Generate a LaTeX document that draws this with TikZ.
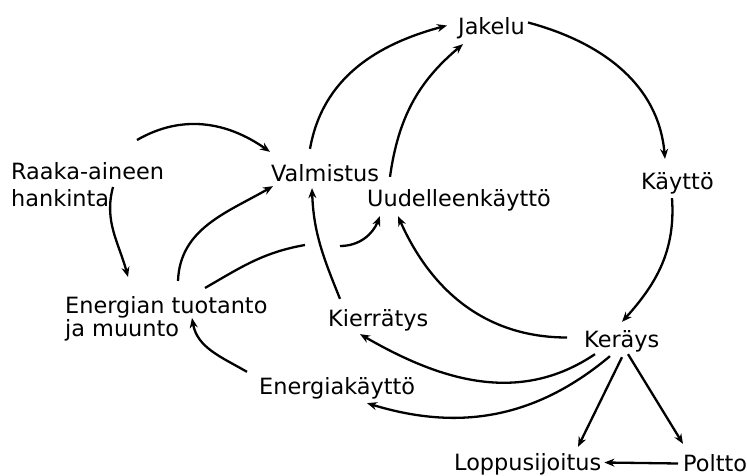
\documentclass[tikz,border=0pt]{standalone}
\usepackage{fontspec}
\setmainfont{DejaVu Sans}
\usetikzlibrary{arrows.meta}

\begin{document}
\begin{tikzpicture}[x=1pt,y=1pt,->,>={Stealth[length=10pt,width=8pt]},line width=2.3pt,
  every node/.style={font=\fontsize{22.4}{27}\selectfont,inner sep=0pt},
  lbl/.style={anchor=base west,text height=16pt,text depth=5pt},
  multi/.style={anchor=north west,align=left}]
  \useasboundingbox (0,0) rectangle (747,476);
  % stages
  \node[lbl] (jak) at (457,441) {Jakelu};
  \node[lbl] (kay) at (640,286) {Käyttö};
  \node[lbl] (ker) at (583,128) {Keräys};
  \node[lbl] (pol) at (682,4) {Poltto};
  \node[lbl] (lop) at (453,5) {Loppusijoitus};
  \node[lbl] (enk) at (258,81) {Energiakäyttö};
  \node[lbl] (kie) at (327,149) {Kierrätys};
  \node[lbl] (uud) at (366,269) {Uudelleenkäyttö};
  \node[lbl] (val) at (270,294) {Valmistus};
  \node[multi] (raa) at (10,315) {Raaka-aineen\\hankinta};
  \node[multi] (etu) at (64,181) {Energian tuotanto\\[-4pt]ja muunto};
  \coordinate (gapA) at (305,231);
  \coordinate (gapB) at (340,230);
  % main cycle
  \draw ([xshift=40pt,yshift=16pt]val.north west) to[out=80,in=195] ([xshift=-10pt,yshift=4pt]jak.west);
  \draw ([xshift=24pt,yshift=13pt]uud.north west) to[out=82,in=220] ([xshift=6pt,yshift=-3pt]jak.south west);
  \draw ([xshift=2pt,yshift=7pt]jak.east) to[out=-15,in=95] ([xshift=25pt,yshift=14pt]kay.north west);
  \draw ([xshift=32pt,yshift=-2pt]kay.south west) to[out=-86,in=48] ([xshift=39pt,yshift=9pt]ker.north west);
  \draw ([xshift=-16pt,yshift=5pt]ker.west) to[out=180,in=-66] ([xshift=32pt,yshift=-3pt]uud.south west);
  % from collection
  \draw ([xshift=12pt]ker.south west) to[out=214,in=-30] ([xshift=33pt,yshift=-1pt]kie.south west);
  \draw ([xshift=27pt,yshift=-2pt]ker.south west) to[out=220,in=-17] ([xshift=109pt,yshift=-2pt]enk.south west);
  \draw ([xshift=39pt,yshift=-3pt]ker.south west) -- ([xshift=125pt,yshift=7pt]lop.north west);
  \draw ([xshift=45pt]ker.south west) -- ([xshift=1pt,yshift=11pt]pol.north west);
  \draw ([xshift=-4pt,yshift=3pt]pol.west) -- ([xshift=2pt,yshift=3pt]lop.east);
  % back to production
  \draw ([xshift=-11pt,yshift=6pt]enk.north west) to[out=150,in=-80] ([xshift=128pt,yshift=-23pt]etu.north west);
  \draw ([xshift=13pt,yshift=11pt]kie.north west) to[out=112,in=-88] ([xshift=42pt]val.south west);
  \draw ([xshift=114pt,yshift=14pt]etu.north west) to[out=88,in=210] ([xshift=3pt,yshift=2pt]val.south west);
  \draw ([xshift=127pt,yshift=21pt]raa.north west) to[out=30,in=145] ([yshift=13pt]val.north west);
  \draw ([xshift=103pt,yshift=-26pt]raa.north west) to[out=-105,in=105] ([xshift=64pt,yshift=18pt]etu.north west);
  \draw[-] ([xshift=141pt,yshift=7pt]etu.north west) to[out=30,in=190] (gapA);
  \draw (gapB) to[out=0,in=-112] ([xshift=14pt,yshift=-3pt]uud.south west);
\end{tikzpicture}
\end{document}
